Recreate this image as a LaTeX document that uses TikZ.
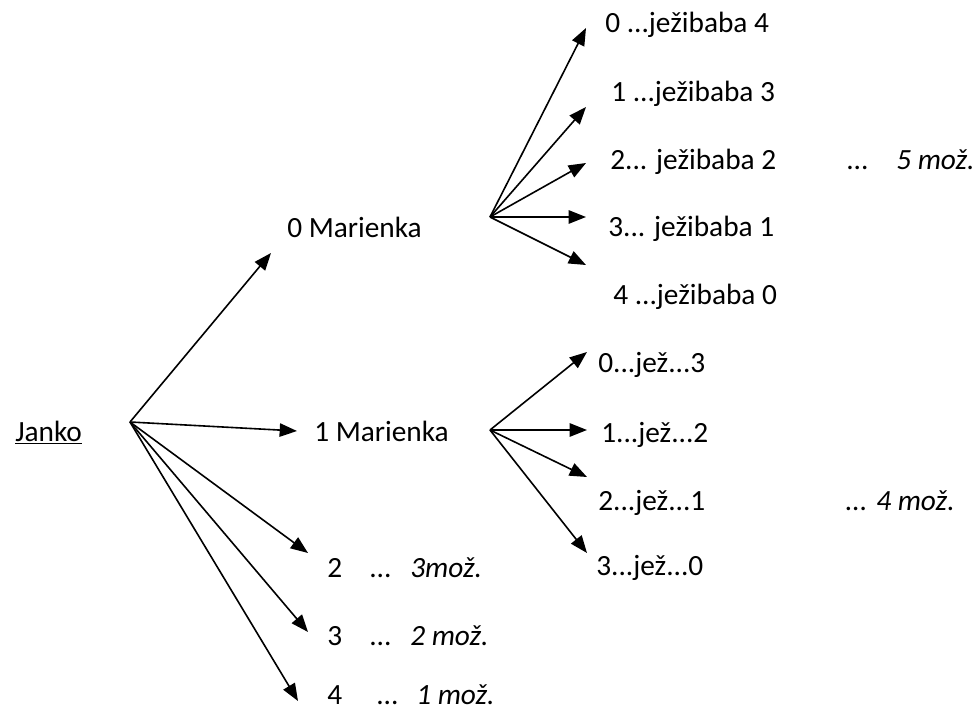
\documentclass[tikz,border=0pt]{standalone}
\usepackage{fontspec}
\setmainfont{Carlito}
\usetikzlibrary{arrows.meta}
\tikzset{
  lbl/.style={anchor=base west, inner sep=0pt, font=\fontsize{22}{26}\selectfont},
  ilbl/.style={lbl, font=\fontsize{22}{26}\selectfont\itshape},
  arr/.style={line width=1.2pt, -{Triangle[length=13pt,width=10pt]}},
}
\begin{document}
\begin{tikzpicture}[x=0.75pt,y=-0.75pt]
    \useasboundingbox (0,0) rectangle (976,713);
    % Janko and his branches
    \node[lbl] (janko) at (15,441) {\underline{Janko}};
    \coordinate (jo) at (130,422);
    \node[lbl] (mar0) at (287,238) {0 Marienka};
    \node[lbl] (mar1) at (314,441) {1 Marienka};
    \node[lbl] (k2) at (327,577) {2};
    \node[lbl] (k3) at (327,645) {3};
    \node[lbl] (k4) at (327,704) {4};
    \node[lbl] (d2) at (369,577) {...};
    \node[lbl] (d3) at (369,645) {...};
    \node[lbl] (d4) at (376,704) {...};
    \node[ilbl] (p2) at (410,577) {3mož.};
    \node[ilbl] (p3) at (410,645) {2 mož.};
    \node[ilbl] (p4) at (416,704) {1 mož.};
    \foreach \n/\x/\y in {0/271/253, 1/297/431, 2/308/553, 3/308/632, 4/298/701}
       \coordinate (j\n) at (\x,\y);
    \foreach \n in {0,...,4}
       \draw[arr] (jo) -- (j\n);
    % 0 Marienka
    \coordinate (m0) at (490,217);
    \foreach \n/\x/\y/\t in {0/605/33/{0 ...ježibaba 4}, 1/611/102/{1 ...ježibaba 3},
        2/610/170/{2... ježibaba 2}, 3/608/237/{3... ježibaba 1}, 4/613/305/{4 ...ježibaba 0}}
       \node[lbl] (z\n) at (\x,\y) {\t};
    \foreach \n/\y in {0/28, 1/107, 2/163, 3/217, 4/265}
       \coordinate (a\n) at (586,\y);
    \foreach \n in {0,...,4}
       \draw[arr] (m0) -- (a\n);
    \node[lbl] (dz) at (846,170) {...};
    \node[ilbl] (mz) at (896,170) {5 mož.};
    % 1 Marienka
    \coordinate (m1) at (490,430);
    \foreach \n/\x/\y/\t in {0/598/373/{0...jež...3}, 1/601/442/{1...jež...2},
        2/598/510/{2...jež...1}, 3/596/575/{3...jež...0}}
       \node[lbl] (y\n) at (\x,\y) {\t};
    \foreach \n/\y in {0/352, 1/430, 2/477, 3/553}
       \coordinate (b\n) at (587,\y);
    \foreach \n in {0,...,3}
       \draw[arr] (m1) -- (b\n);
    \node[ilbl] (my) at (845,510) {... 4 mož.};
\end{tikzpicture}
\end{document}
